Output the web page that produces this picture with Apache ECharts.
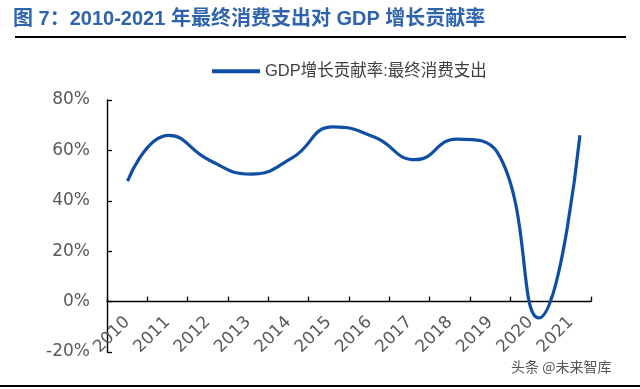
<!DOCTYPE html>
<html>
<head>
<meta charset="utf-8">
<script src="https://cdn.jsdelivr.net/npm/echarts@6/dist/echarts.min.js"></script>
<style>html,body{margin:0;padding:0;background:#fff;}#c{width:640px;height:389px;}</style>
</head>
<body>
<div id="c"></div>
<script>
const years = ['2010','2011','2012','2013','2014','2015','2016','2017','2018','2019','2020','2021'];
const consumption = [47.8, 66.0, 56.0, 50.6, 57.0, 69.3, 65.3, 56.3, 64.5, 59.0, -6.5, 66.0];
const yTicks = [-20, 0, 20, 40, 60, 80];
const seriesName = 'GDP增长贡献率:最终消费支出';
const titleText = '图 7：2010-2021 年最终消费支出对 GDP 增长贡献率';
const watermark = '头条 @未来智库';

const chart = echarts.init(document.getElementById('c'));
const cjk = '"Liberation Sans", Arial, "Noto Sans CJK SC", sans-serif';
const wide = '"DejaVu Sans", sans-serif';
chart.setOption({
  animation: false,
  backgroundColor: '#fff',
  title: {
    text: titleText, left: 8, top: 4,
    textStyle: {color: '#2F64AC', fontSize: 20, fontWeight: 'bold', fontFamily: cjk}
  },
  legend: {
    data: [seriesName], top: 58, left: 207,
    itemWidth: 48, itemHeight: 4, itemGap: 6,
    icon: 'rect',
    textStyle: {color: '#404040', fontSize: 16.5, fontFamily: cjk}
  },
  graphic: [
    {type: 'line', shape: {x1: 15, y1: 37, x2: 626, y2: 37}, style: {stroke: '#000', lineWidth: 2}},
    {type: 'line', shape: {x1: 0, y1: 386, x2: 640, y2: 386}, style: {stroke: '#000', lineWidth: 2}},
    {type: 'text', left: 511, top: 360, style: {text: watermark, fill: '#555', font: '14px "Noto Sans CJK SC", sans-serif'}}
  ],
  grid: [
    {left: 107, right: 49, top: 100, bottom: 37},
    {left: 107, right: 39.5, top: 100, bottom: 37}
  ],
  xAxis: [
    {
      type: 'category', gridIndex: 0, data: years, boundaryGap: true,
      position: 'bottom', offset: -50.4,
      axisLine: {onZero: false, lineStyle: {color: '#000', width: 1.4}},
      axisTick: {show: true, inside: true, length: 5, lineStyle: {color: '#000', width: 1.3}},
      axisLabel: {rotate: 45, color: '#595959', fontSize: 17, margin: 18, fontFamily: wide}
    },
    {
      type: 'category', gridIndex: 1, data: years, boundaryGap: true, show: false
    }
  ],
  yAxis: [
    {
      type: 'value', gridIndex: 0, min: yTicks[0], max: yTicks[yTicks.length-1], interval: 20,
      axisLine: {show: true, lineStyle: {color: '#000', width: 1.4}},
      axisTick: {show: true, inside: true, length: 5, lineStyle: {color: '#000', width: 1.3}},
      splitLine: {show: false},
      axisLabel: {formatter: '{value}%', color: '#595959', fontSize: 17, margin: 17, fontFamily: wide}
    },
    {
      type: 'value', gridIndex: 1, min: yTicks[0], max: yTicks[yTicks.length-1], interval: 20, show: false
    }
  ],
  series: [{
    name: seriesName, type: 'line', xAxisIndex: 1, yAxisIndex: 1,
    data: consumption, smooth: 0.5, symbol: 'none',
    lineStyle: {color: '#0F4FA3', width: 3.2},
    itemStyle: {color: '#0F4FA3'}
  }]
});
</script>
</body>
</html>
